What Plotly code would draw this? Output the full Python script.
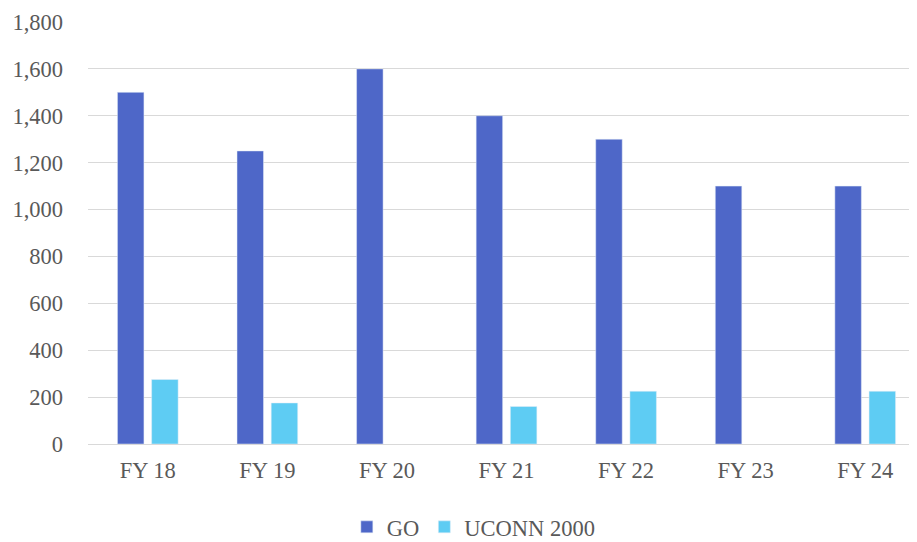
import plotly.graph_objects as go

categories = ["FY 18", "FY 19", "FY 20", "FY 21", "FY 22", "FY 23", "FY 24"]
go_values = [1500, 1250, 1600, 1400, 1300, 1100, 1100]
uconn_values = [275, 175, None, 160, 225, None, 225]
y_ticks = [0, 200, 400, 600, 800, 1000, 1200, 1400, 1600, 1800]

FONT = "Liberation Serif, serif"
TXT = "#595959"
FS = 22.5

fig = go.Figure()
fig.add_trace(go.Bar(name="GO", x=categories, y=go_values, marker_color="#4E67C8"))
fig.add_trace(go.Bar(name="UCONN 2000", x=categories, y=uconn_values, marker_color="#5ECCF3"))

fig.update_layout(
    width=917, height=542,
    margin=dict(l=80, r=0, t=14, b=106, autoexpand=False),
    paper_bgcolor="white", plot_bgcolor="white",
    barmode="group", bargap=0.428, bargroupgap=0.225,
    font=dict(family=FONT, size=FS, color=TXT),
    legend=dict(orientation="h", x=0.508, xanchor="center", xref="container",
                y=0.042, yanchor="middle", yref="container",
                font=dict(family=FONT, size=FS, color=TXT),
                traceorder="normal", itemwidth=30),
    xaxis=dict(showgrid=False, showline=False, ticks="", automargin=False,
               ticklabelstandoff=10, tickfont=dict(family=FONT, size=FS, color=TXT)),
    yaxis=dict(range=[0, 1800], tickvals=y_ticks, tickformat=",d", showgrid=True,
               gridcolor="#D9D9D9", gridwidth=1.3, zeroline=True, zerolinecolor="#D9D9D9",
               zerolinewidth=1.3, ticks="", automargin=False, ticklabelstandoff=24,
               tickfont=dict(family=FONT, size=FS, color=TXT)),
)
fig.write_html("out.html")
